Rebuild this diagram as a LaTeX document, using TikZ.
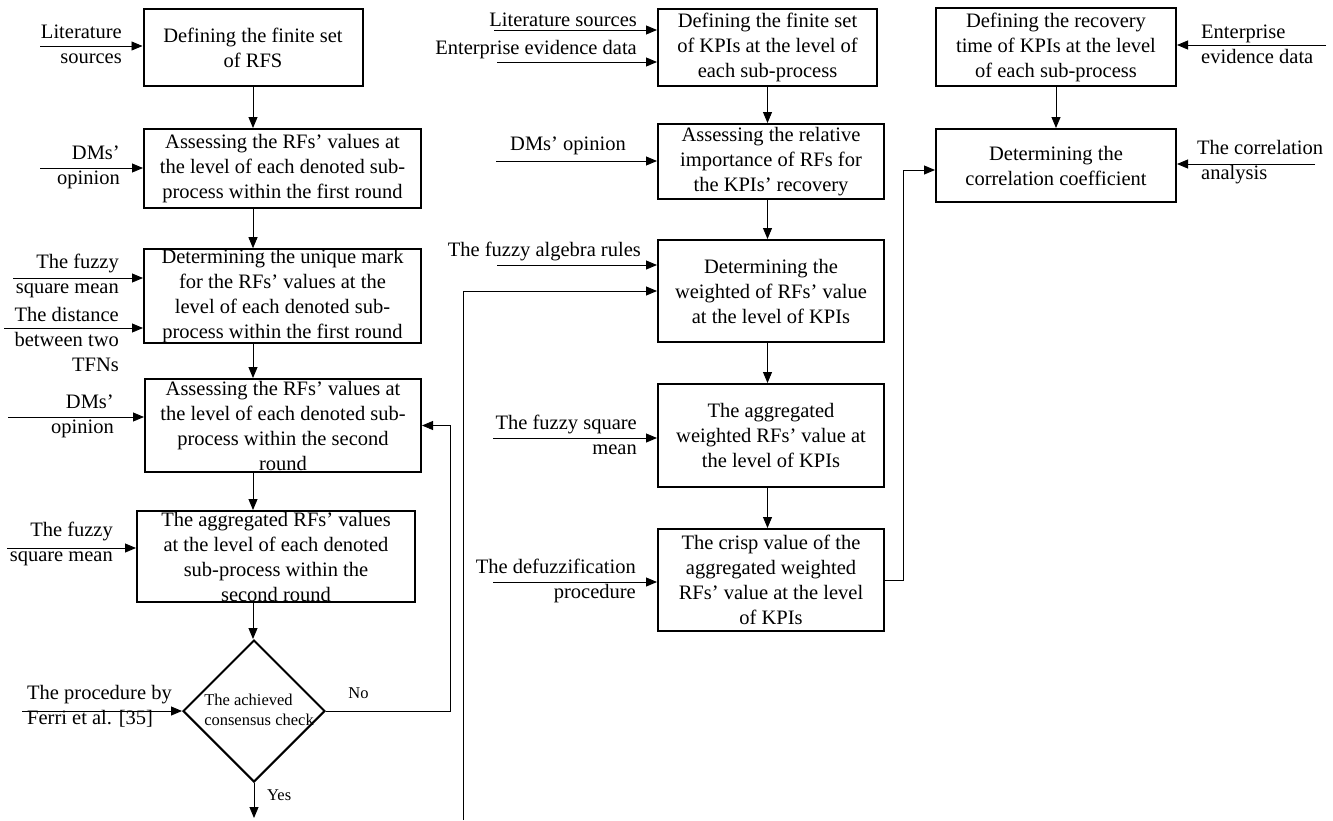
\documentclass[tikz,border=0pt]{standalone}
\usepackage{fontspec}
\setmainfont{Liberation Serif}
\usepackage{tikz}
\usetikzlibrary{arrows.meta, shapes.geometric}
\tikzset{
>={Triangle[length=11pt,width=9pt]}, % solid heads on every connector
flow/.style={->, line width=0.9pt}, % thin connectors between the steps
procbox/.style={draw, line width=2pt, align=center, inner sep=0pt, font=\fontsize{20.5}{25}\selectfont}, % one step of the procedure
decision/.style={draw, diamond, aspect=1, line width=2pt, inner sep=0pt, minimum width=142pt, minimum height=142pt}, % the check
inlbl/.style={inner sep=0pt, align=right, font=\fontsize{20.5}{25}\selectfont}, % the inputs written beside the arrows
small/.style={inner sep=0pt, align=left, font=\fontsize{16.5}{19.5}\selectfont}, % text in and round the diamond
}

\begin{document}
\begin{tikzpicture}[x=1pt,y=-1pt]
\useasboundingbox (0,0) rectangle (1333,820);

% left column
\node[procbox, minimum width=219pt, minimum height=77pt] (rfset) at (253,47.5) {Defining the finite set\\of RFS};
\node[procbox, minimum width=277pt, minimum height=79pt] (rfvalues1) at (282.5,168.5) {Assessing the RFs' values at\\the level of each denoted sub-\\process within the first round};
\node[procbox, minimum width=277pt, minimum height=92pt] (rfmark) at (282.5,296) {Determining the unique mark\\for the RFs' values at the\\level of each denoted sub-\\process within the first round};
\node[procbox, minimum width=276pt, minimum height=93pt] (rfvalues2) at (283,425.5) {Assessing the RFs' values at\\the level of each denoted sub-\\process within the second\\round};
\node[procbox, minimum width=278pt, minimum height=91pt] (rfaggr) at (276,556.5) {The aggregated RFs' values\\at the level of each denoted\\sub-process within the\\second round};
\node[decision, label={[small, xshift=5pt, yshift=1pt]center:The achieved\\consensus check}] (consensus) at (254,711) {};

\draw[flow] (rfset.south) -- (rfset.south |- rfvalues1.north);
\draw[flow] (rfset.south |- rfvalues1.south) -- (rfset.south |- rfmark.north);
\draw[flow] (rfset.south |- rfmark.south) -- (rfset.south |- rfvalues2.north);
\draw[flow] (rfset.south |- rfvalues2.south) -- (rfset.south |- rfaggr.north);
\draw[flow] (rfset.south |- rfaggr.south) -- (rfset.south |- consensus.north);

\coordinate (yesend) at (254,818);
\draw[flow] (consensus.south) -- (yesend);
\node[small, anchor=west] (yes) at (267,795) {Yes};
\coordinate (noturn) at (450,711);
\draw[flow] (consensus.east) -- (noturn) |- (rfvalues2.east);
\node[small] (no) at (358.5,693) {No};

% inputs of the left column
\coordinate (inlit) at (40,46);
\draw[flow] (inlit) -- (inlit -| rfset.west);
\node[inlbl, anchor=east] (litsrc) at (122,44.5) {Literature\\sources};
\coordinate (indms1) at (40,168);
\draw[flow] (indms1) -- (indms1 -| rfvalues1.west);
\node[inlbl, anchor=east] (dms1) at (120,167) {DMs'\\opinion};
\coordinate (insqm1) at (13,278);
\draw[flow] (insqm1) -- (insqm1 -| rfmark.west);
\node[inlbl, anchor=east] (sqm1) at (119,276) {The fuzzy\\square mean};
\coordinate (indist) at (4,328);
\draw[flow] (indist) -- (indist -| rfmark.west);
\node[inlbl, anchor=east] (dist) at (119,339) {The distance\\between two\\TFNs};
\coordinate (indms2) at (8,417);
\draw[flow] (indms2) -- (indms2 -| rfvalues2.west);
\node[inlbl, anchor=east] (dms2) at (114,416.5) {DMs'\\opinion};
\coordinate (insqm2) at (7,548);
\draw[flow] (insqm2) -- (insqm2 -| rfaggr.west);
\node[inlbl, anchor=east] (sqm2) at (113,544) {The fuzzy\\square mean};
\coordinate (inferri) at (22,711);
\draw[flow] (inferri) -- (consensus.west);
\node[inlbl, align=left, anchor=west] (ferri) at (27,706) {The procedure by\\Ferri et al. [35]};

% middle column
\node[procbox, minimum width=219pt, minimum height=77pt] (kpiset) at (767.5,47.5) {Defining the finite set\\of KPIs at the level of\\each sub-process};
\node[procbox, minimum width=226pt, minimum height=75pt] (rfimport) at (771,161.5) {Assessing the relative\\importance of RFs for\\the KPIs' recovery};
\node[procbox, minimum width=226pt, minimum height=102pt] (rfweight) at (771,291) {Determining the\\weighted of RFs' value\\at the level of KPIs};
\node[procbox, minimum width=226pt, minimum height=103pt] (wagg) at (771,435.5) {The aggregated\\weighted RFs' value at\\the level of KPIs};
\node[procbox, minimum width=226pt, minimum height=102pt] (crisp) at (771,580) {The crisp value of the\\aggregated weighted\\RFs' value at the level\\of KPIs};

\draw[flow] (kpiset.south) -- (kpiset.south |- rfimport.north);
\draw[flow] (kpiset.south |- rfimport.south) -- (kpiset.south |- rfweight.north);
\draw[flow] (kpiset.south |- rfweight.south) -- (kpiset.south |- wagg.north);
\draw[flow] (kpiset.south |- wagg.south) -- (kpiset.south |- crisp.north);

\coordinate (loopin) at (463,820);
\draw[flow] (loopin) |- (rfweight.west);

% inputs of the middle column
\coordinate (inlit2) at (494,30);
\draw[flow] (inlit2) -- (inlit2 -| kpiset.west);
\node[inlbl, anchor=east] (litsrc2) at (637,20) {Literature sources};
\coordinate (inevid) at (497,62);
\draw[flow] (inevid) -- (inevid -| kpiset.west);
\node[inlbl, anchor=east] (evid) at (637,50) {Enterprise evidence data};
\coordinate (indms3) at (496,161);
\draw[flow] (indms3) -- (indms3 -| rfimport.west);
\node[inlbl] (dms3) at (568,146) {DMs' opinion};
\coordinate (inalg) at (497,265);
\draw[flow] (inalg) -- (inalg -| rfweight.west);
\node[inlbl, anchor=east] (alg) at (641,251) {The fuzzy algebra rules};
\coordinate (insqm3) at (493,438);
\draw[flow] (insqm3) -- (insqm3 -| wagg.west);
\node[inlbl, anchor=east] (sqm3) at (637,435) {The fuzzy square\\mean};
\coordinate (indefuz) at (493,582);
\draw[flow] (indefuz) -- (indefuz -| crisp.west);
\node[inlbl, anchor=east] (defuz) at (636,580.5) {The defuzzification\\procedure};

% right column
\node[procbox, minimum width=240pt, minimum height=78pt] (rectime) at (1056,47) {Defining the recovery\\time of KPIs at the level\\of each sub-process};
\node[procbox, minimum width=240pt, minimum height=73pt] (corrcoef) at (1056,165.5) {Determining the\\correlation coefficient};

\draw[flow] (rectime.south) -- (rectime.south |- corrcoef.north);
\coordinate (crispturn) at (903,580);
\draw[flow] (crisp.east) -- (crispturn) |- ([yshift=-4.5pt]corrcoef.west);

\coordinate (inevid2) at (1326,45);
\draw[flow] (inevid2) -- (inevid2 -| rectime.east);
\node[inlbl, align=left, anchor=west] (evid2) at (1201,44.5) {Enterprise\\evidence data};
\coordinate (incorr) at (1315,164);
\draw[flow] (incorr) -- (incorr -| corrcoef.east);
\node[inlbl, align=left, anchor=west] (corr) at (1197,162) {The correlation\\\hspace{4pt}analysis};
\end{tikzpicture}
\end{document}
